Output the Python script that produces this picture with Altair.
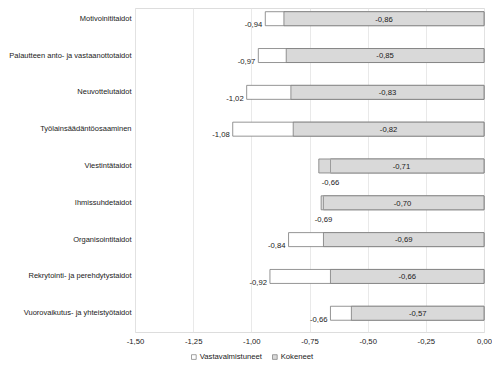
import altair as alt
import pandas as pd

categories = [
    "Motivoinititaidot",
    "Palautteen anto- ja vastaanottotaidot",
    "Neuvottelutaidot",
    "Työlainsäädäntöosaaminen",
    "Viestintätaidot",
    "Ihmissuhdetaidot",
    "Organisointitaidot",
    "Rekrytointi- ja perehdytystaidot",
    "Vuorovaikutus- ja yhteistyötaidot",
]
vastavalmistuneet = [-0.94, -0.97, -1.02, -1.08, -0.66, -0.69, -0.84, -0.92, -0.66]
kokeneet = [-0.86, -0.85, -0.83, -0.82, -0.71, -0.70, -0.69, -0.66, -0.57]
series_names = ["Vastavalmistuneet", "Kokeneet"]
x_ticks = [-1.5, -1.25, -1.0, -0.75, -0.5, -0.25, 0.0]

FONT = "Liberation Sans"
FS = 7.7
TXT = "#1a1a1a"
STROKE = "#7a7a7a"

long_rows = []
for s, vals in zip(series_names, [vastavalmistuneet, kokeneet]):
    for c, v in zip(categories, vals):
        long_rows.append({"kategoria": c, "sarja": s, "arvo": v})
long_df = pd.DataFrame(long_rows)

wide_df = pd.DataFrame({"kategoria": categories, "vasta": vastavalmistuneet, "kok": kokeneet})

y_enc = alt.Y(
    "kategoria:N",
    sort=categories,
    title=None,
    scale=alt.Scale(paddingInner=0.62, paddingOuter=0.21, align=0.24),
    axis=alt.Axis(domain=False, ticks=False, grid=False, labelFont=FONT, labelFontSize=7.5,
                  labelColor=TXT, labelPadding=4, labelLimit=200),
)
x_scale = alt.Scale(domain=[-1.5, 0], nice=False)

bars = alt.Chart(long_df).mark_bar(stroke=STROKE, strokeWidth=0.8).encode(
    x=alt.X("arvo:Q", scale=x_scale, title=None,
            axis=alt.Axis(values=x_ticks, format=".2f", domain=False, ticks=False, labelFlush=False,
                          gridColor="#e3e3e3", gridWidth=0.8, labelFont=FONT, labelFontSize=FS,
                          labelColor=TXT, labelPadding=5)),
    x2=alt.datum(0),
    y=y_enc,
    color=alt.Color("sarja:N", title=None,
                    scale=alt.Scale(domain=series_names, range=["#ffffff", "#d9d9d9"]),
                    legend=alt.Legend(orient="none", legendX=55, legendY=345, direction="horizontal",
                                      symbolType="square", symbolSize=22, symbolStrokeColor=STROKE,
                                      symbolStrokeWidth=0.7, labelFont=FONT, labelFontSize=FS,
                                      labelColor=TXT, columnPadding=9, labelOffset=2, padding=0)),
    order=alt.Order("ord:Q"),
).transform_calculate(ord="datum.sarja == 'Vastavalmistuneet' ? 0 : 1")

base = alt.Chart(wide_df)

hidden_edge = base.transform_filter("datum.vasta >= datum.kok").mark_tick(
    orient="vertical", size=13, thickness=0.8, color="#8c8c8c", opacity=1
).encode(x=alt.X("vasta:Q", scale=x_scale), y=alt.Y("kategoria:N", sort=categories))

kok_text = base.transform_calculate(mid="datum.kok / 2").mark_text(
    font=FONT, fontSize=FS, color=TXT, align="center", baseline="alphabetic", dy=2.8
).encode(x=alt.X("mid:Q", scale=x_scale), y=alt.Y("kategoria:N", sort=categories),
         text=alt.Text("kok:Q", format=".2f"))

vasta_left = base.transform_filter("datum.vasta < datum.kok").mark_text(
    font=FONT, fontSize=FS, color=TXT, align="right", baseline="alphabetic", dx=-3, dy=8.3
).encode(x=alt.X("vasta:Q", scale=x_scale), y=alt.Y("kategoria:N", sort=categories),
         text=alt.Text("vasta:Q", format=".2f"))

vasta_below = base.transform_filter("datum.vasta >= datum.kok").mark_text(
    font=FONT, fontSize=FS, color=TXT, align="center", baseline="alphabetic", dy=19
).encode(x=alt.X("vasta:Q", scale=x_scale), y=alt.Y("kategoria:N", sort=categories),
         text=alt.Text("vasta:Q", format=".2f"))

chart = alt.layer(bars, hidden_edge, kok_text, vasta_left, vasta_below).properties(
    width=349,
    height=324,
    autosize=alt.AutoSizeParams(type="none"),
    padding={"left": 127, "top": 0, "right": 8, "bottom": 36},
).configure_view(stroke=None).configure(
    locale={"number": {"decimal": ",", "thousands": "\u00a0", "grouping": [3],
                       "currency": ["", "\u00a0€"], "minus": "-"}}
)

chart.save("out.html", embed_options={"renderer": "svg", "actions": False})
